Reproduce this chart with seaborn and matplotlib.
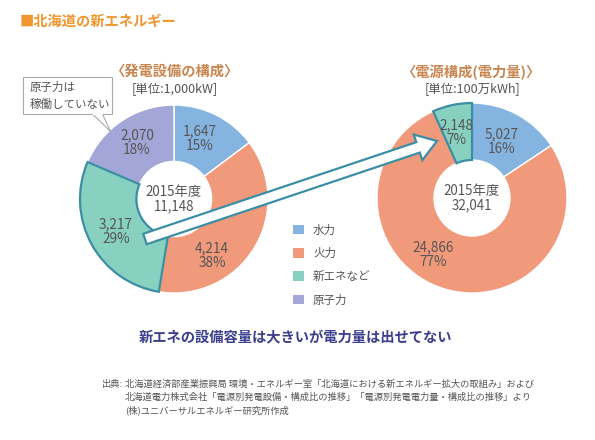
import seaborn as sns
import matplotlib.pyplot as plt
from matplotlib.patches import FancyArrow, Rectangle, Polygon, Patch

# data
categories = ["水力", "火力", "新エネなど", "原子力"]
capacity = [1647, 4214, 3217, 2070]          # 1,000kW
capacity_pct = [15, 38, 29, 18]
generation = [5027, 24866, 2148, 0]          # 100万kWh
generation_pct = [16, 77, 7, 0]
capacity_total = 11148
generation_total = 32041
year_label = "2015年度"

sns.set_theme(style="white")
plt.rcParams['font.family'] = ['Noto Sans CJK JP', 'DejaVu Sans']

colors = ["#86b4e0", "#f19a7b", "#88d0bf", "#a3a6d6"]
teal = "#3c8ea4"
gray = "#555555"
H = 440

fig = plt.figure(figsize=(5.95, 4.40), dpi=100)
ax = fig.add_axes([0, 0, 1, 1])


def py(y):
    # pixel row -> data y (axis goes up)
    return H - y


def donut(values, center, r):
    vals = [v for v in values if v > 0]
    cols = [c for v, c in zip(values, colors) if v > 0]
    wedges, _ = ax.pie(vals, colors=cols, startangle=90, counterclock=False,
                       center=center, radius=r,
                       wedgeprops=dict(width=r * 0.6, edgecolor="white", linewidth=1))
    return wedges


left_c = (174, py(199))
right_c = (472, py(198))
w_left = donut(capacity, left_c, 94)
w_right = donut(generation, right_c, 95)
for w in (w_left[2], w_right[2]):
    w.set_edgecolor(teal)
    w.set_linewidth(1.6)
    w.set_zorder(3)

ax.set_xlim(0, 595)
ax.set_ylim(0, H)
ax.set_aspect("equal")
ax.axis("off")

# wedge labels
left_pos = [(200, 139), (212, 256), (116, 232), (137, 143)]
right_pos = [(502, 142), (433, 255), (456, 133), None]
for vals, pcts, pos in ((capacity, capacity_pct, left_pos), (generation, generation_pct, right_pos)):
    for v, p, xy in zip(vals, pcts, pos):
        if v == 0 or xy is None:
            continue
        ax.text(xy[0], py(xy[1]), f"{v:,}\n{p}%", ha="center", va="center",
                fontsize=9.8, color=gray, linespacing=1.05, zorder=5)

ax.text(left_c[0], left_c[1], f"{year_label}\n{capacity_total:,}", ha="center", va="center",
        fontsize=9.6, color=gray, linespacing=1.05, zorder=5)
ax.text(right_c[0], right_c[1], f"{year_label}\n{generation_total:,}", ha="center", va="center",
        fontsize=9.6, color=gray, linespacing=1.05, zorder=5)

# hollow arrow from left new-energy wedge to right new-energy wedge
arrow = FancyArrow(145, py(239), 292, 98, width=11, head_width=27, head_length=20,
                   length_includes_head=True, facecolor="white", edgecolor=teal,
                   linewidth=1.6, zorder=4)
ax.add_patch(arrow)

# titles
ax.text(20, py(22), "■北海道の新エネルギー", ha="left", va="center", fontsize=10.3,
        fontweight="bold", color="#f0962e")
ax.text(175, py(72), "〈発電設備の構成〉", ha="center", va="center", fontsize=10.3,
        fontweight="bold", color="#c98650")
ax.text(175, py(89), "[単位:1,000kW]", ha="center", va="center", fontsize=9, color=gray)
ax.text(472, py(72), "〈電源構成(電力量)〉", ha="center", va="center", fontsize=10.3,
        fontweight="bold", color="#c98650")
ax.text(472, py(89), "[単位:100万kWh]", ha="center", va="center", fontsize=9, color=gray)

# callout box
ax.add_patch(Rectangle((23, py(114)), 89, 37, facecolor="white", edgecolor="#aaaaaa",
                       linewidth=0.8, zorder=6))
ax.add_patch(Polygon([(92, py(113.5)), (102, py(113.5)), (111, py(132))], closed=True,
                     facecolor="white", edgecolor="#aaaaaa", linewidth=0.8, zorder=6))
ax.plot([92.5, 101.5], [py(114), py(114)], color="white", lw=1.5, zorder=7)
ax.text(30, py(87), "原子力は", ha="left", va="center", fontsize=8.3, color=gray, zorder=8)
ax.text(30, py(104), "稼働していない", ha="left", va="center", fontsize=8.3, color=gray, zorder=8)

# legend
handles = [Patch(facecolor=c, edgecolor="none") for c in colors]
ax.legend(handles, categories, loc="upper left", bbox_to_anchor=(283 / 595, 1 - 213 / H),
          frameon=False, fontsize=8.3, handlelength=0.9, handleheight=0.9,
          labelspacing=0.9, handletextpad=0.8, labelcolor=gray)

# message
ax.text(295, py(338), "新エネの設備容量は大きいが電力量は出せてない", ha="center", va="center",
        fontsize=10.3, fontweight="bold", color="#3b3f8c")

# source
src = ["北海道経済部産業振興局 環境・エネルギー室「北海道における新エネルギー拡大の取組み」および",
       "北海道電力株式会社「電源別発電設備・構成比の推移」「電源別発電電力量・構成比の推移」より",
       "(株)ユニバーサルエネルギー研究所作成"]
ax.text(102, py(384), "出典:", ha="left", va="center", fontsize=6.7, color=gray)
for i, line in enumerate(src):
    ax.text(125, py(384 + 13 * i), line, ha="left", va="center", fontsize=6.7, color=gray)

fig.savefig("out.png", dpi=100)
